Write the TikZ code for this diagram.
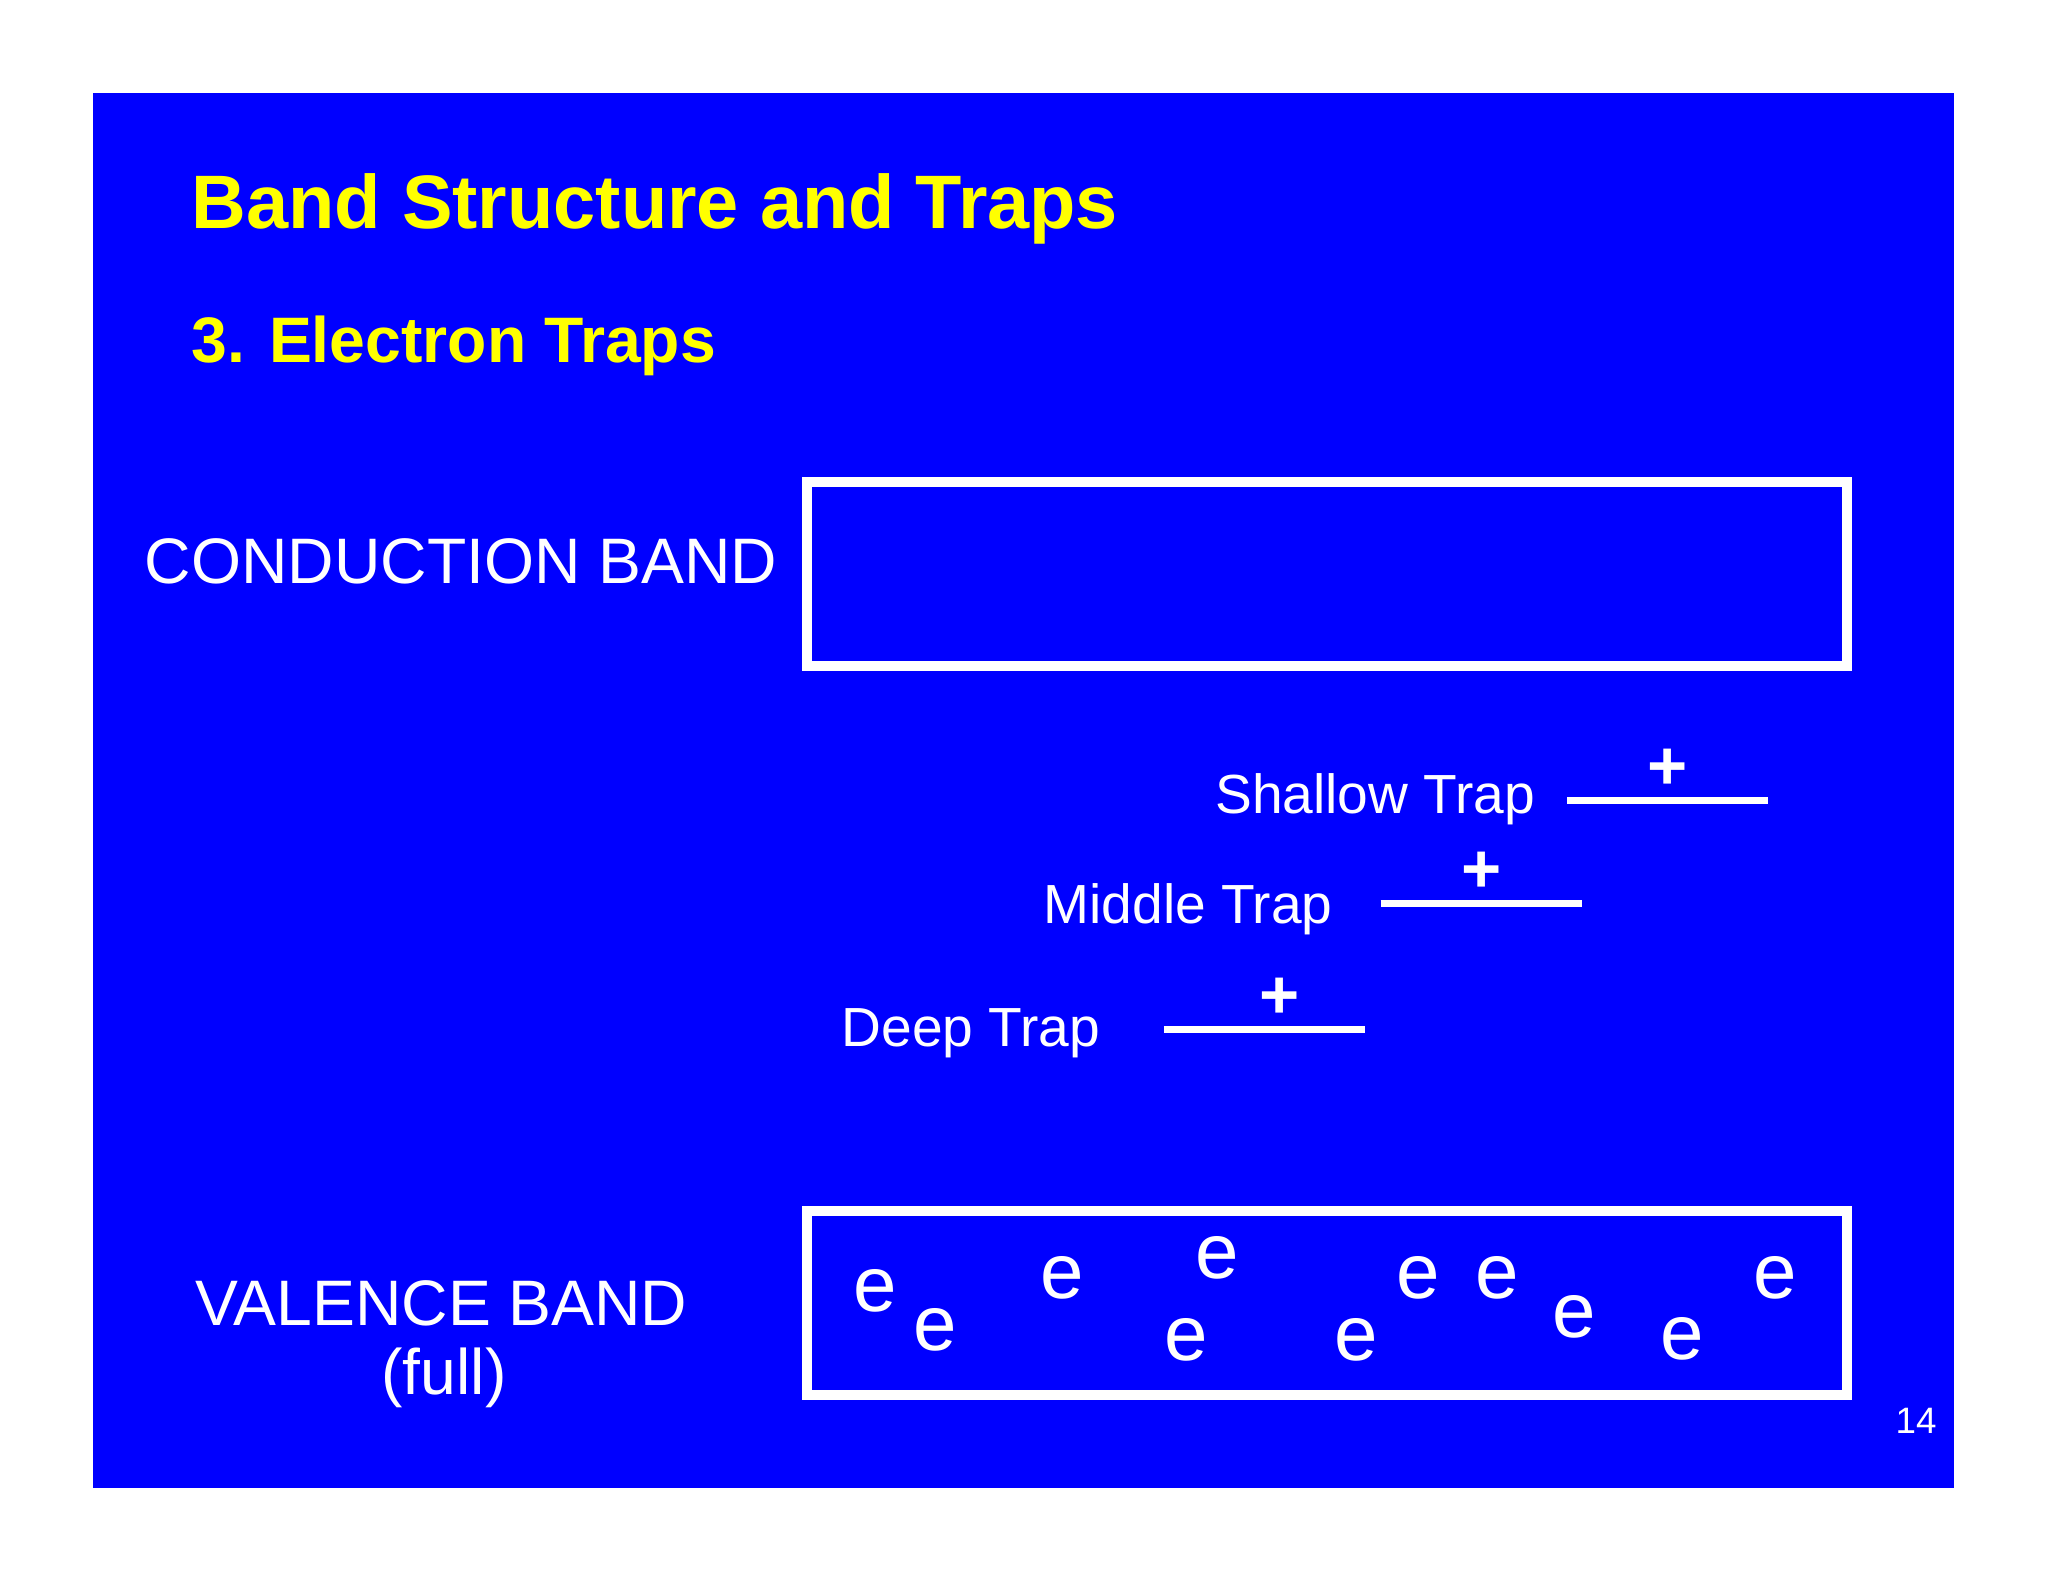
\documentclass[tikz,border=0pt]{standalone}
\usepackage{fontspec}
\setmainfont{Liberation Sans}
\definecolor{slideblue}{RGB}{0,0,255}
\definecolor{ttl}{RGB}{255,255,0}
\begin{document}
\begin{tikzpicture}[x=0.01cm,y=-0.01cm,
  band/.style={draw=white,line width=2.3pt},
  lvl/.style={draw=white,line width=1.5pt},
  lbl/.style={text=white,font=\fontsize{12}{14}\selectfont,inner sep=0pt},
  el/.style={text=white,font=\fontsize{17}{19}\selectfont,inner sep=0pt},
  pl/.style={text=white,font=\fontsize{15}{17}\selectfont\bfseries,inner sep=0pt}]
\useasboundingbox (0,0) rectangle (1568,1211);
\fill[slideblue] (71,71) rectangle (1496,1139);
\node[anchor=west,text=ttl,font=\fontsize{16.5}{19}\selectfont\bfseries,inner sep=0pt] (title) at (146,160) {Band Structure and Traps};
\node[anchor=west,text=ttl,font=\fontsize{14}{17}\selectfont\bfseries,inner sep=0pt] (sub) at (146,265) {3. Electron Traps};
\node[band,minimum width=796\pgflinewidth,inner sep=0pt] (dummy) at (0,0) {};
\draw[band] (618,369) rectangle (1414,510);
\draw[band] (618,927) rectangle (1414,1068);
\node[text=white,font=\fontsize{14}{17}\selectfont,inner sep=0pt] (cb) at (353,430) {CONDUCTION BAND};
\node[text=white,font=\fontsize{14}{17}\selectfont,inner sep=0pt] (vb) at (338,998) {VALENCE BAND};
\node[text=white,font=\fontsize{14}{17}\selectfont,inner sep=0pt] (full) at (340,1055) {(full)};
\coordinate (s1) at (1200,613); \coordinate (s2) at (1354,613);
\coordinate (m1) at (1057,692); \coordinate (m2) at (1211,692);
\coordinate (d1) at (891,788); \coordinate (d2) at (1045,788);
\draw[lvl] (s1) -- (s2);
\draw[lvl] (m1) -- (m2);
\draw[lvl] (d1) -- (d2);
\node[pl] (ps) at (1277,589) {+};
\node[pl] (pm) at (1134,668) {+};
\node[pl] (pd) at (980,764) {+};
\node[lbl,anchor=east] (ls) at (1176,612) {Shallow Trap};
\node[lbl,anchor=east] (lm) at (1021,696) {Middle Trap};
\node[lbl,anchor=east] (ld) at (843,791) {Deep Trap};
\foreach \x/\y [count=\i] in {670/988,716/1018,813/978,932/963,908/1026,1038/1026,1086/978,1146/978,1205/1008,1288/1025,1359/978}
  \node[el] (e\i) at (\x,\y) {e};
\node[text=white,font=\fontsize{8}{10}\selectfont,inner sep=0pt] (pg) at (1467,1088) {14};
\end{tikzpicture}
\end{document}
